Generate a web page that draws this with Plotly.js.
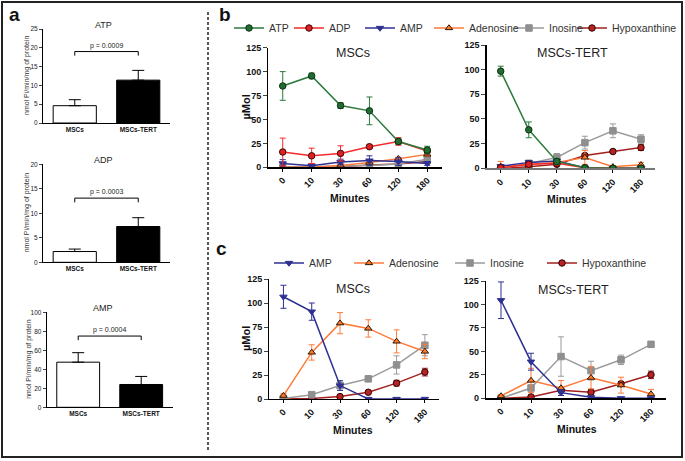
<!DOCTYPE html>
<html><head><meta charset="utf-8">
<script src="https://cdn.plot.ly/plotly-3.0.1.min.js"></script>
<style>html,body{margin:0;padding:0;background:#fff}#chart{width:685px;height:461px}</style>
</head><body><div id="chart"></div>
<script>
// ---------------- data ----------------
const barGroups = ['MSCs', 'MSCs-TERT'];
const atpRate = [4.6, 11.4];
const atpRateErr = [1.6, 2.6];
const adpRate = [2.2, 7.3];
const adpRateErr = [0.5, 1.8];
const ampRate = [47.5, 24];
const ampRateErr = [10, 8.5];
const barTitles = ['ATP', 'ADP', 'AMP'];
const pValues = ['p = 0.0009', 'p = 0.0003', 'p = 0.0004'];
const bracketLevel = [19, 13.1, 75];
const barYMax = [25, 20, 100];
const barYStep = [5, 5, 20];

const minutes = ['0', '10', '30', '60', '120', '180'];
const seriesNames = ['ATP', 'ADP', 'AMP', 'Adenosine', 'Inosine', 'Hypoxanthine'];

// panel b, MSCs
const bMscATP = [85, 95.5, 64.5, 59, 27, 18];
const bMscATPErr = [15, 3, 3, 14.5, 3, 4];
const bMscADP = [16, 12, 14.5, 21.5, 27, 17];
const bMscADPErr = [14.5, 8, 8, 2, 4, 3];
const bMscAMP = [4, 1.5, 5.5, 7, 6, 4];
const bMscAMPErr = [4, 1, 3, 5, 4, 2];
const bMscAdo = [0, 0, 2, 5, 9, 13.5];
const bMscAdoErr = [0, 0, 1, 1, 1.5, 2];
const bMscIno = [0, 0.5, 1, 2, 3.5, 8.5];
const bMscInoErr = [0, 0, 0.5, 1, 1, 2];
const bMscHyp = [0, 0, 0.5, 2.5, 3.5, 6];
const bMscHypErr = [0, 0, 0.5, 1, 1, 1.5];

// panel b, MSCs-TERT
const bTertATP = [98.5, 39, 7, 0.5, 0, 0];
const bTertATPErr = [5, 8, 3, 1, 0.5, 0.5];
const bTertADP = [0.5, 4, 5, 0.5, 0, 0];
const bTertADPErr = [1, 2, 2, 0.5, 0, 0];
const bTertAMP = [2, 6, 7.5, 0.5, 0, 0];
const bTertAMPErr = [1.5, 2, 2, 0.5, 0, 0];
const bTertAdo = [2, 3.5, 6, 11, 1.5, 3.5];
const bTertAdoErr = [5, 2, 2, 7, 1, 2.5];
const bTertIno = [0, 5, 11, 26, 38, 29.5];
const bTertInoErr = [0, 2, 4, 6.5, 7, 4.5];
const bTertHyp = [0, 1.5, 4, 13, 17, 21];
const bTertHypErr = [0, 1, 1, 2, 1.5, 3];

// panel c, MSCs
const cMscAMP = [106.5, 91, 14, 0, 0, 0];
const cMscAMPErr = [12, 9, 5, 0, 0, 0];
const cMscAdo = [3.5, 48.5, 79, 73.5, 60, 49.5];
const cMscAdoErr = [2, 8, 11, 9, 12, 7.5];
const cMscIno = [0.5, 4.5, 14, 21, 35.5, 56];
const cMscInoErr = [0.5, 1, 5, 3, 9.5, 11];
const cMscHyp = [0, 0.5, 2.5, 7, 16.5, 28];
const cMscHypErr = [0, 0.5, 1, 1, 3, 4];

// panel c, MSCs-TERT
const cTertAMP = [104.5, 39, 6, 1, 0, 0];
const cTertAMPErr = [19.5, 9, 3, 0.5, 0, 0];
const cTertAdo = [2.5, 19, 11, 22, 14, 4.5];
const cTertAdoErr = [1.5, 13, 8, 12, 8.5, 5];
const cTertIno = [0, 11, 44.5, 29.5, 41, 57.5];
const cTertInoErr = [0, 3, 21, 10, 5, 3];
const cTertHyp = [0, 1.5, 8.5, 6.5, 15.5, 25];
const cTertHypErr = [0, 1, 2, 3, 2, 4];

// ---------------- layout helpers ----------------
const W = 685, H = 461;
const X = p => p / W;
const Y = p => 1 - p / H;
const FONT = 'Arial, "Liberation Sans", Helvetica, sans-serif';

const styles = {
  'ATP':          {line: '#2b7a3b', fill: '#1f6e30', edge: '#0f2f15', symbol: 'circle'},
  'ADP':          {line: '#f52a2a', fill: '#e02020', edge: '#3a0808', symbol: 'circle'},
  'AMP':          {line: '#2e3192', fill: '#2e3192', edge: '#2e3192', symbol: 'triangle-down'},
  'Adenosine':    {line: '#ff7a3a', fill: '#ff7a2a', edge: '#2a1a0a', symbol: 'triangle-up'},
  'Inosine':      {line: '#9b9b9b', fill: '#8f8f8f', edge: '#8f8f8f', symbol: 'square'},
  'Hypoxanthine': {line: '#a3201f', fill: '#b82222', edge: '#2a0505', symbol: 'circle'}
};

const traces = [];

// ---- panel a: bar charts ----
const barSets = [[atpRate, atpRateErr], [adpRate, adpRateErr], [ampRate, ampRateErr]];
barSets.forEach((s, i) => {
  const ax = i === 0 ? '' : String(i + 1);
  traces.push({
    type: 'bar', x: barGroups, y: s[0], width: 0.68,
    xaxis: 'x' + ax, yaxis: 'y' + ax, showlegend: false,
    marker: {color: ['#ffffff', '#000000'], line: {color: '#000', width: 1}},
    error_y: {type: 'data', symmetric: false, array: s[1], arrayminus: [0, 0],
              color: '#000', thickness: 1, width: 6}
  });
  const lvl = bracketLevel[i];
  const drop = barYMax[i] * 0.043;
  traces.push({
    type: 'scatter', mode: 'lines',
    x: [barGroups[0], barGroups[0], barGroups[1], barGroups[1]],
    y: [lvl - drop, lvl, lvl, lvl - drop],
    xaxis: 'x' + ax, yaxis: 'y' + ax, showlegend: false,
    line: {color: '#000', width: 1}, hoverinfo: 'skip'
  });
});

// ---- panels b & c: time courses ----
function addSeries(name, vals, errs, axIdx, legendId) {
  const st = styles[name];
  traces.push({
    type: 'scatter', mode: 'lines+markers', name: name,
    x: minutes, y: vals,
    xaxis: 'x' + axIdx, yaxis: 'y' + axIdx,
    showlegend: !!legendId, legend: legendId || 'legend',
    line: {color: st.line, width: 1.5},
    marker: {symbol: st.symbol, size: 6.5, color: st.fill, line: {color: st.edge, width: 1}},
    error_y: {type: 'data', array: errs, color: st.line, thickness: 1, width: 3}
  });
}
const bMsc = [bMscATP, bMscADP, bMscAMP, bMscAdo, bMscIno, bMscHyp];
const bMscE = [bMscATPErr, bMscADPErr, bMscAMPErr, bMscAdoErr, bMscInoErr, bMscHypErr];
const bTert = [bTertATP, bTertADP, bTertAMP, bTertAdo, bTertIno, bTertHyp];
const bTertE = [bTertATPErr, bTertADPErr, bTertAMPErr, bTertAdoErr, bTertInoErr, bTertHypErr];
const cNames = ['AMP', 'Adenosine', 'Inosine', 'Hypoxanthine'];
const cMsc = [cMscAMP, cMscAdo, cMscIno, cMscHyp];
const cMscE = [cMscAMPErr, cMscAdoErr, cMscInoErr, cMscHypErr];
const cTert = [cTertAMP, cTertAdo, cTertIno, cTertHyp];
const cTertE = [cTertAMPErr, cTertAdoErr, cTertInoErr, cTertHypErr];

for (let i = seriesNames.length - 1; i >= 0; i--) {
  addSeries(seriesNames[i], bMsc[i], bMscE[i], 4, i === 0 ? 'legend' : 'legend' + (i + 1));
  addSeries(seriesNames[i], bTert[i], bTertE[i], 5, null);
}
for (let i = cNames.length - 1; i >= 0; i--) {
  addSeries(cNames[i], cMsc[i], cMscE[i], 6, 'legend' + (i + 7));
  addSeries(cNames[i], cTert[i], cTertE[i], 7, null);
}

// ---------------- layout ----------------
const layout = {
  width: W, height: H,
  margin: {l: 0, r: 0, t: 0, b: 0},
  paper_bgcolor: '#fff', plot_bgcolor: 'rgba(0,0,0,0)',
  font: {family: FONT, color: '#111'},
  showlegend: true,
  annotations: [], shapes: []
};

const barBoxes = [[43, 170, 29, 123], [43, 170, 164.3, 262.3], [46.7, 172.7, 312.3, 407.3]];
barBoxes.forEach((b, i) => {
  const ax = i === 0 ? '' : String(i + 1);
  layout['xaxis' + ax] = {
    domain: [X(b[0]), X(b[1])], anchor: 'y' + ax, type: 'category', range: [-0.5, 1.5],
    showline: true, linecolor: '#000', linewidth: 1, ticks: '', showgrid: false, zeroline: false,
    tickfont: {size: 6.5, weight: 'bold', family: FONT, color: '#111'}, fixedrange: true
  };
  layout['yaxis' + ax] = {
    domain: [Y(b[3]), Y(b[2])], anchor: 'x' + ax, range: [0, barYMax[i]], dtick: barYStep[i],
    showline: true, linecolor: '#000', linewidth: 1, ticks: 'outside', ticklen: 3, tickwidth: 1,
    showgrid: false, zeroline: false, tickfont: {size: 6.5, family: FONT, color: '#222'}
  };
  layout.annotations.push({
    xref: 'paper', yref: 'paper', x: X(103), y: Y(b[2] - 4), text: barTitles[i],
    showarrow: false, font: {size: 9, color: '#222'}, xanchor: 'center', yanchor: 'middle'
  });
  layout.annotations.push({
    xref: 'paper', yref: 'paper', x: X(i === 2 ? 29 : 27), y: Y((b[2] + b[3]) / 2),
    text: 'nmol Pi/min/mg of protein', textangle: -90, showarrow: false,
    font: {size: 7, color: '#333'}, xanchor: 'center', yanchor: 'middle'
  });
  layout.annotations.push({
    xref: 'x' + ax, yref: 'y' + ax, x: 0.5, y: bracketLevel[i], text: pValues[i],
    showarrow: false, yanchor: 'bottom', yshift: 0, font: {size: 7, color: '#222'}
  });
});

// [x0, x1, yTop, yBottom, title, titleY, xLineColour, titleX, minutesX]
const tsBoxes = [
  [268.3, 441.7, 47.7, 167.3, 'MSCs', 53, '#000', 353, 350],
  [486.7, 655, 45, 168.3, 'MSCs-TERT', 53, '#777', 572, 567],
  [269.3, 439, 279, 399, 'MSCs', 289, '#000', 353, 353],
  [486, 666, 281, 398.3, 'MSCs-TERT', 290, '#000', 573, 577]
];
tsBoxes.forEach((b, k) => {
  const ax = String(k + 4);
  layout['xaxis' + ax] = {
    domain: [X(b[0]), X(b[1])], anchor: 'y' + ax, type: 'category', range: [-0.5, 5.5],
    showline: true, linecolor: b[6], linewidth: b[6] === '#000' ? 1.3 : 2, ticks: 'outside', ticklen: 3,
    tickwidth: 1, tickcolor: '#000', tickangle: -45, showgrid: false, zeroline: false,
    tickfont: {size: 9, weight: 'bold', family: FONT, color: '#111'}
  };
  layout['yaxis' + ax] = {
    domain: [Y(b[3]), Y(b[2])], anchor: 'x' + ax, range: [0, 125], dtick: 25,
    showline: true, linecolor: '#000', linewidth: 1.3, ticks: 'outside', ticklen: 4, tickwidth: 1,
    showgrid: false, zeroline: false, tickfont: {size: 9, weight: 'bold', family: FONT, color: '#111'}
  };
  layout.annotations.push({
    xref: 'paper', yref: 'paper', x: X(b[7]), y: Y(b[5]), text: b[4],
    showarrow: false, font: {size: 12.5, color: '#222'}, xanchor: 'center', yanchor: 'middle'
  });
  layout.annotations.push({
    xref: 'paper', yref: 'paper', x: X(b[8]), y: Y(b[3] + 31), text: 'Minutes',
    showarrow: false, font: {size: 10.5, weight: 'bold', color: '#111'}, xanchor: 'center', yanchor: 'middle'
  });
  if (k % 2 === 0) {
    layout.annotations.push({
      xref: 'paper', yref: 'paper', x: X(246), y: Y((b[2] + b[3]) / 2), text: 'µMol', textangle: -90,
      showarrow: false, font: {size: 11, weight: 'bold', color: '#111'}, xanchor: 'center', yanchor: 'middle'
    });
  }
});

// panel letters
[['a', 14, 14], ['b', 225, 15], ['c', 221, 249]].forEach(l => {
  layout.annotations.push({
    xref: 'paper', yref: 'paper', x: X(l[1]), y: Y(l[2]), text: l[0], showarrow: false,
    font: {size: 19, weight: 'bold', color: '#111'}, xanchor: 'center', yanchor: 'middle'
  });
});

// legends, one per entry; positioned by where the original's label text starts
const bLegendText = [267, 327, 398, 467, 547, 610];
const cLegendText = [307, 387, 488, 580];
const legendBase = {orientation: 'h', xanchor: 'left', yanchor: 'middle', bgcolor: 'rgba(0,0,0,0)',
  font: {size: 10.5, color: '#333', family: FONT}, itemwidth: 30, borderwidth: 0};
bLegendText.forEach((px, i) => {
  layout[i === 0 ? 'legend' : 'legend' + (i + 1)] = Object.assign({}, legendBase, {x: X(px - 38), y: Y(28)});
});
cLegendText.forEach((px, i) => {
  layout['legend' + (i + 7)] = Object.assign({}, legendBase, {x: X(px - 38), y: Y(263)});
});

// frame and divider
layout.shapes.push({type: 'rect', xref: 'paper', yref: 'paper', x0: X(2), x1: X(682), y0: Y(457), y1: Y(2),
  line: {color: '#222', width: 2}});
layout.shapes.push({type: 'line', xref: 'paper', yref: 'paper', x0: X(208), x1: X(208), y0: Y(450), y1: Y(10),
  line: {color: '#222', width: 1.5, dash: '3px,2px'}});

Plotly.newPlot('chart', traces, layout, {staticPlot: true, displayModeBar: false});
</script>
</body></html>
